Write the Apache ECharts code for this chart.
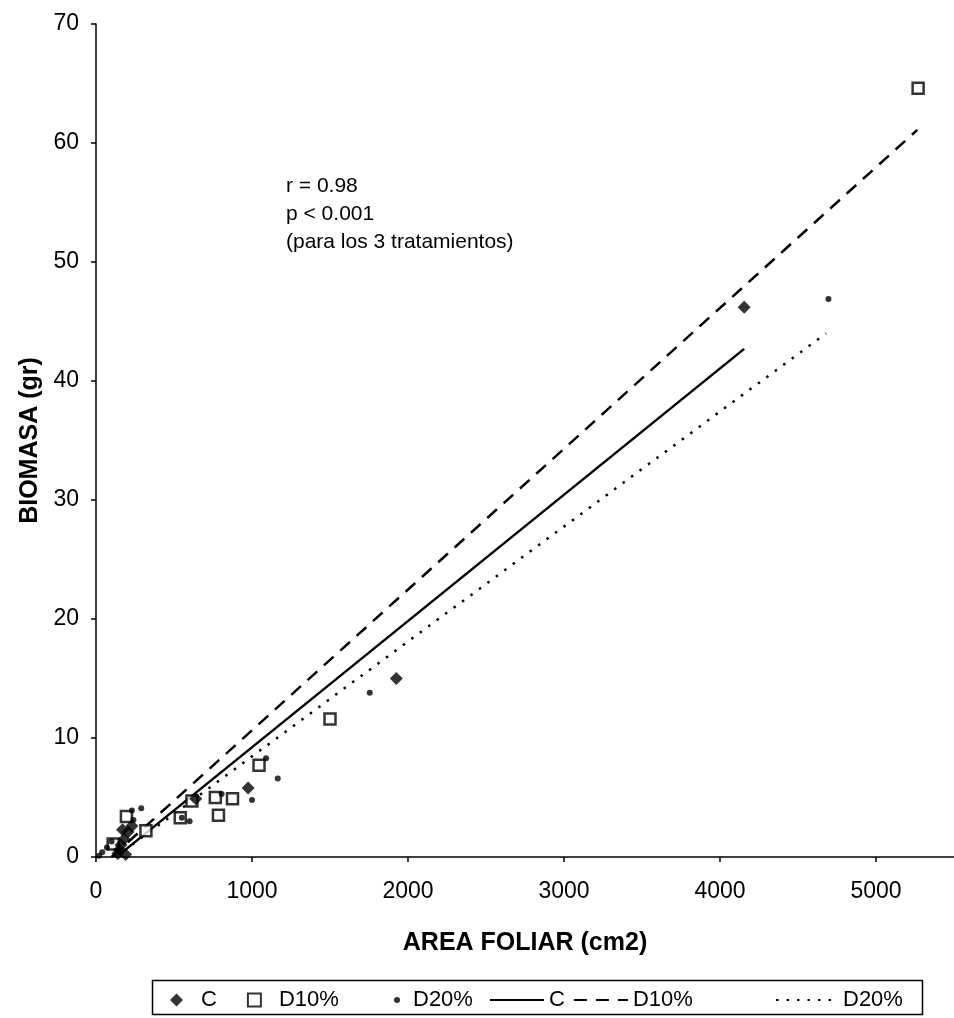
<!DOCTYPE html>
<html>
<head>
<meta charset="utf-8">
<script src="https://cdn.jsdelivr.net/npm/echarts@6/dist/echarts.min.js"></script>
<style>
html,body{margin:0;padding:0;background:#fff;}
#chart{width:954px;height:1018px;}
</style>
</head>
<body>
<div id="chart"></div>
<script>
// Series C (filled diamonds)
const cPoints = [[4155,46.2],[1925,15.0],[975,5.8],[640,4.9],[230,2.6],[205,2.1],[180,1.5],[160,1.0],[150,0.6],[140,0.3],[190,0.2],[170,2.3]];
// Series D10% (open squares)
const d10Points = [[5270,64.6],[1500,11.6],[1045,7.7],[875,4.9],[765,5.0],[785,3.5],[615,4.7],[540,3.3],[320,2.2],[195,3.4],[110,1.1]];
// Series D20% (small dots)
const d20Points = [[4695,46.9],[1755,13.8],[1165,6.6],[1090,8.3],[1000,4.8],[805,5.3],[600,3.0],[550,3.3],[290,4.1],[230,3.9],[240,3.1],[100,1.3],[70,0.8],[40,0.4],[20,0.1]];
// Linear trend lines (endpoints)
const cTrend = [[150,0.2],[4155,42.7]];
const d10Trend = [[100,0.0],[5265,61.1]];
const d20Trend = [[125,0.0],[4680,44.0]];
// Axis settings
const xTicks = [0,1000,2000,3000,4000,5000];
const yTicks = [0,10,20,30,40,50,60,70];
const annotation = ['r = 0.98','p < 0.001','(para los 3 tratamientos)'];

const FONT = '"Liberation Sans", Arial, sans-serif';
const chart = echarts.init(document.getElementById('chart'), null, {renderer:'canvas'});
const legendText = {fontFamily:FONT, fontSize:22, color:'#000'};
const hiddenSym = {color:'rgba(0,0,0,0)', borderWidth:0};

const option = {
  backgroundColor:'#fff',
  animation:false,
  grid:{left:96, right:0, top:24, bottom:161, containLabel:false},
  xAxis:{
    type:'value', min:0, max:5500, interval:1000,
    name:'AREA FOLIAR (cm2)', nameLocation:'middle', nameGap:74,
    nameTextStyle:{fontFamily:FONT, fontWeight:'bold', fontSize:25, color:'#000'},
    axisLine:{show:true, onZero:false, lineStyle:{color:'#000', width:1.5}},
    axisTick:{show:true, length:5, lineStyle:{color:'#000', width:1.5}},
    axisLabel:{fontFamily:FONT, fontSize:23, color:'#000', margin:23, showMaxLabel:false,
      formatter:v => xTicks.includes(v) ? String(v) : ''},
    splitLine:{show:false}
  },
  yAxis:{
    type:'value', min:0, max:70, interval:10,
    name:'BIOMASA (gr)', nameLocation:'middle', nameGap:38, nameRotate:90,
    nameTextStyle:{fontFamily:FONT, fontWeight:'bold', fontSize:25, color:'#000'},
    axisLine:{show:true, onZero:false, lineStyle:{color:'#000', width:1.5}},
    axisTick:{show:true, length:5, lineStyle:{color:'#000', width:1.5}},
    axisLabel:{fontFamily:FONT, fontSize:23, color:'#000', margin:17,
      formatter:v => yTicks.includes(v) ? String(v) : ''},
    splitLine:{show:false}
  },
  legend:[
    {data:['C','D10%'], left:165, top:984, orient:'horizontal',
     itemWidth:13, itemHeight:13, itemGap:30,
     textStyle:Object.assign({padding:[0,0,0,13]}, legendText)},
    {data:['D20%'], left:389, top:984, orient:'horizontal',
     itemWidth:6, itemHeight:6, itemGap:10,
     textStyle:Object.assign({padding:[0,0,0,8]}, legendText)},
    {data:['C ','D10% '], left:484, top:984, orient:'horizontal',
     itemWidth:54, itemHeight:14, itemGap:8, formatter:n => n.trim(),
     itemStyle:hiddenSym, textStyle:legendText},
    {data:['D20% '], left:770, top:984, orient:'horizontal',
     itemWidth:62, itemHeight:14, formatter:n => n.trim(),
     itemStyle:hiddenSym, textStyle:legendText}
  ],
  graphic:[
    {type:'rect', left:150, top:978, shape:{width:770, height:34},
     style:{fill:'none', stroke:'#000', lineWidth:1.5}, z:-1},
    {type:'text', left:286, top:176, style:{text:annotation[0], font:'21px '+FONT, fill:'#000'}},
    {type:'text', left:286, top:204, style:{text:annotation[1], font:'21px '+FONT, fill:'#000'}},
    {type:'text', left:286, top:232, style:{text:annotation[2], font:'21px '+FONT, fill:'#000'}}
  ],
  series:[
    {name:'C', type:'scatter', data:cPoints, symbol:'diamond', symbolSize:13,
     itemStyle:{color:'#000'}, z:5},
    {name:'D10%', type:'scatter', data:d10Points, symbol:'rect', symbolSize:11,
     itemStyle:{color:'#fff', borderColor:'#000', borderWidth:2.5}, z:4},
    {name:'D20%', type:'scatter', data:d20Points, symbol:'circle', symbolSize:6,
     itemStyle:{color:'#000'}, z:6},
    {name:'C ', type:'line', data:cTrend, symbol:'none', showSymbol:false,
     lineStyle:{color:'#000', width:2.5, type:'solid'}, itemStyle:hiddenSym, z:3},
    {name:'D10% ', type:'line', data:d10Trend, symbol:'none', showSymbol:false,
     lineStyle:{color:'#000', width:2.5, type:[13,9]}, itemStyle:hiddenSym, z:3},
    {name:'D20% ', type:'line', data:d20Trend, symbol:'none', showSymbol:false,
     lineStyle:{color:'#000', width:2.5, type:[2.5,8]}, itemStyle:hiddenSym, z:3}
  ]
};
chart.setOption(option);
</script>
</body>
</html>
